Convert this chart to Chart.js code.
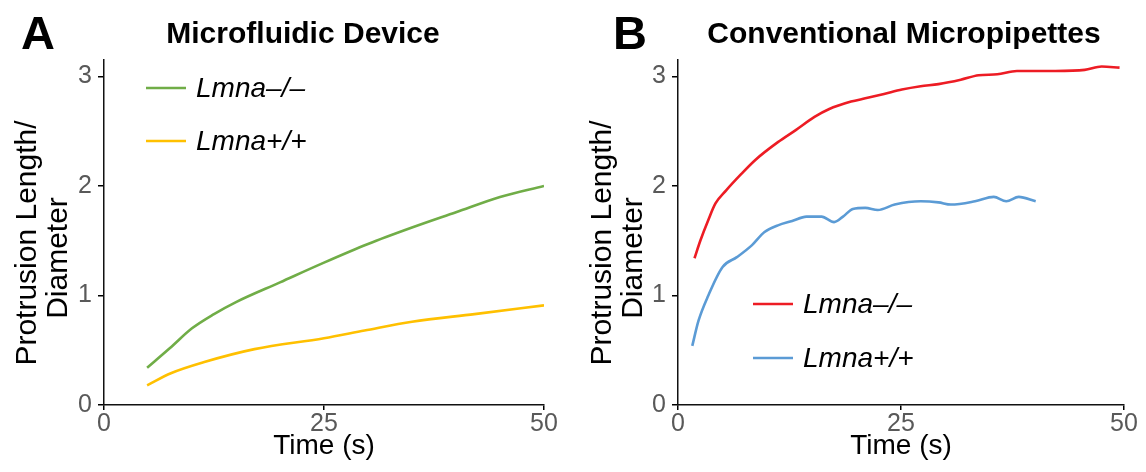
<!DOCTYPE html>
<html>
<head>
<meta charset="utf-8">
<script src="https://cdn.jsdelivr.net/npm/chart.js@4.4.1/dist/chart.umd.min.js"></script>
<style>
  html, body { margin: 0; padding: 0; background: #ffffff; }
  .panel { position: absolute; top: 0; width: 573px; height: 472px; }
  #pa { left: 0; }
  #pb { left: 573px; }
</style>
</head>
<body>
<div class="panel" id="pa"><canvas id="ca" width="573" height="472"></canvas></div>
<div class="panel" id="pb"><canvas id="cb" width="573" height="472"></canvas></div>
<script>
// ---- Data ----
const panelTitles = ['Microfluidic Device', 'Conventional Micropipettes'];
const panelLetters = ['A', 'B'];
const seriesLabels = ['Lmna\u2013/\u2013', 'Lmna+/+'];
const xTicks = [0, 25, 50];
const yTicks = [0, 1, 2, 3];
const xTitle = 'Time (s)';
const yTitle = ['Protrusion Length/', 'Diameter'];

// Panel A: microfluidic device
const aKoTime  = [4.9, 7.5, 10.0, 12.5, 15.0, 20.0, 25.0, 30.0, 35.0, 40.0, 45.0, 50.0];
const aKoValue = [0.34, 0.52, 0.70, 0.83, 0.94, 1.12, 1.30, 1.47, 1.62, 1.76, 1.90, 2.0];
const aWtTime  = [4.9, 7.6, 11.3, 17.1, 25.0, 29.6, 35.0, 42.1, 50.0];
const aWtValue = [0.18, 0.29, 0.39, 0.51, 0.61, 0.68, 0.76, 0.83, 0.91];

// Panel B: conventional micropipettes
const bKoTime  = [1.85, 2.5, 3.4, 4.2, 5.4, 7.1, 8.7, 11.2, 13.2, 15.3, 16.9, 19.4, 21.0, 23.1, 25.1, 27.2, 29.2, 31.7, 33.7, 35.8, 38.0, 40.3, 42.3, 45.6, 47.5, 49.5];
const bKoValue = [1.34, 1.50, 1.69, 1.84, 1.96, 2.11, 2.24, 2.40, 2.51, 2.63, 2.70, 2.77, 2.80, 2.84, 2.88, 2.91, 2.93, 2.97, 3.01, 3.02, 3.05, 3.05, 3.05, 3.06, 3.09, 3.08];
const bWtTime  = [1.6, 2.3, 3.4, 5.0, 6.6, 8.3, 9.7, 11.2, 12.8, 14.4, 16.1, 17.5, 18.5, 19.6, 21.0, 22.4, 24.3, 27.2, 29.2, 30.6, 33.3, 35.4, 36.8, 38.2, 40.1];
const bWtValue = [0.54, 0.77, 1.00, 1.26, 1.35, 1.46, 1.58, 1.64, 1.68, 1.72, 1.72, 1.67, 1.72, 1.79, 1.80, 1.78, 1.83, 1.86, 1.85, 1.83, 1.86, 1.90, 1.86, 1.90, 1.86];

const colors = { aKo: '#70ad47', aWt: '#ffc000', bKo: '#ed1c24', bWt: '#5b9bd5' };
const FONT = "'Liberation Sans', Arial, Helvetica, sans-serif";

function pts(xs, ys) { return xs.map((x, i) => ({ x: x, y: ys[i] })); }

function annotPlugin(cfg) {
  return {
    id: 'annot' + cfg.idx,
    afterDraw(chart) {
      const ctx = chart.ctx;
      const area = chart.chartArea;
      ctx.save();
      ctx.fillStyle = '#000';
      // panel letter
      ctx.font = 'bold 47px ' + FONT;
      ctx.textAlign = 'left';
      ctx.textBaseline = 'alphabetic';
      ctx.fillText(panelLetters[cfg.idx], cfg.letterX, 49);
      // title
      ctx.font = 'bold 30px ' + FONT;
      ctx.textAlign = 'center';
      ctx.fillText(panelTitles[cfg.idx], cfg.titleX, 43);
      // y title (rotated)
      ctx.font = '30px ' + FONT;
      ctx.save();
      ctx.translate(cfg.yT1X, 243);
      ctx.rotate(-Math.PI / 2);
      ctx.textAlign = 'center';
      ctx.fillText(yTitle[0], 0, 0);
      ctx.restore();
      ctx.save();
      ctx.translate(cfg.yT2X, 258);
      ctx.rotate(-Math.PI / 2);
      ctx.textAlign = 'center';
      ctx.fillText(yTitle[1], 0, 0);
      ctx.restore();
      // x title
      ctx.font = '28px ' + FONT;
      ctx.textAlign = 'center';
      ctx.fillText(xTitle, (area.left + area.right) / 2, 454);
      // legend
      chart.data.datasets.forEach((ds, i) => {
        const y = cfg.legY[i];
        ctx.strokeStyle = ds.borderColor;
        ctx.lineWidth = ds.borderWidth;
        ctx.beginPath();
        ctx.moveTo(cfg.legX, y);
        ctx.lineTo(cfg.legX + 40, y);
        ctx.stroke();
        ctx.fillStyle = '#000';
        ctx.font = 'italic 28px ' + FONT;
        ctx.textAlign = 'left';
        ctx.textBaseline = 'middle';
        ctx.fillText(ds.label, cfg.legX + 50, y + 1);
      });
      ctx.restore();
    }
  };
}

function makeChart(canvasId, datasets, cfg) {
  return new Chart(document.getElementById(canvasId), {
    type: 'line',
    data: { datasets: datasets },
    options: {
      responsive: false,
      animation: false,
      events: [],
      layout: { padding: { top: 60, right: cfg.padRight, bottom: 0, left: 0 } },
      plugins: { legend: { display: false }, title: { display: false }, tooltip: { enabled: false } },
      elements: { point: { radius: 0 } },
      scales: {
        x: {
          type: 'linear', min: 0, max: 50,
          afterBuildTicks: s => { s.ticks = xTicks.map(v => ({ value: v })); },
          afterFit: s => { s.height = 67; },
          grid: { drawOnChartArea: false, drawTicks: true, tickLength: 5, color: '#000', lineWidth: 1.5 },
          border: { color: '#111', width: 1.5 },
          ticks: { color: '#595959', font: { family: FONT, size: 25 }, padding: -1, maxRotation: 0 }
        },
        y: {
          type: 'linear', min: 0, max: 3.15,
          afterBuildTicks: s => { s.ticks = yTicks.map(v => ({ value: v })); },
          afterFit: s => { s.width = cfg.yWidth; },
          grid: { drawOnChartArea: false, drawTicks: true, tickLength: 6, color: '#000', lineWidth: 1.5 },
          border: { color: '#111', width: 1.5 },
          ticks: { color: '#595959', font: { family: FONT, size: 25 }, padding: 6 }
        }
      }
    },
    plugins: [annotPlugin(cfg)]
  });
}

makeChart('ca', [
  { label: seriesLabels[0], data: pts(aKoTime, aKoValue), borderColor: colors.aKo, borderWidth: 2.6, cubicInterpolationMode: 'monotone', fill: false },
  { label: seriesLabels[1], data: pts(aWtTime, aWtValue), borderColor: colors.aWt, borderWidth: 2.6, cubicInterpolationMode: 'monotone', fill: false }
], { idx: 0, yWidth: 104, padRight: 29, letterX: 21, titleX: 303, yT1X: 36, yT2X: 67, legX: 146, legY: [88, 141] });

makeChart('cb', [
  { label: seriesLabels[0], data: pts(bKoTime, bKoValue), borderColor: colors.bKo, borderWidth: 2.6, cubicInterpolationMode: 'monotone', fill: false },
  { label: seriesLabels[1], data: pts(bWtTime, bWtValue), borderColor: colors.bWt, borderWidth: 2.6, cubicInterpolationMode: 'monotone', fill: false }
], { idx: 1, yWidth: 105, padRight: 22, letterX: 40, titleX: 331, yT1X: 38, yT2X: 69, legX: 180, legY: [304, 358] });
</script>
</body>
</html>
